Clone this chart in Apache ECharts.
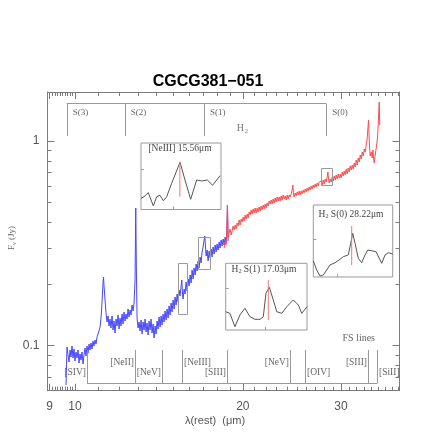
<!DOCTYPE html>
<html><head><meta charset="utf-8">
<script src="https://cdn.jsdelivr.net/npm/echarts@6/dist/echarts.min.js"></script>
<style>html,body{margin:0;padding:0;background:#fff}#c{width:436px;height:436px}</style>
</head><body><div id="c"></div>
<script>
// ---------------- data ----------------
// SL module (blue): wavelength (micron) and flux density (Jy)
const blueLam = [9.635,9.675,9.715,9.755,9.796,9.836,9.877,9.918,9.959,10.000,
10.041,10.083,10.125,10.167,10.209,10.251,10.294,10.337,10.379,10.422,
10.465,10.508,10.552,10.596,10.640,10.684,10.728,10.772,10.817,10.862,
10.907,10.952,10.997,11.043,11.089,11.135,11.181,11.227,11.250,11.274,
11.321,11.367,11.414,11.462,11.509,11.557,11.605,11.653,11.701,11.749,
11.798,11.847,11.896,11.945,11.995,12.044,12.094,12.144,12.195,12.245,
12.296,12.347,12.398,12.449,12.501,12.553,12.605,12.657,12.709,12.762,
12.815,12.852,12.884,12.921,12.975,13.029,13.083,13.137,13.191,13.246,
13.301,13.356,13.411,13.467,13.523,13.579,13.635,13.691,13.748,13.805,
13.862,13.919,13.977,14.035,14.093,14.151,14.210,14.269,14.328,14.387,
14.447,14.507,14.567,14.627,14.688,14.749,14.810,14.871,14.933,14.995,
15.057,15.119,15.182,15.245,15.308,15.371,15.435,15.499,15.544,15.595,
15.627,15.692,15.757,15.822,15.888,15.954,16.020,16.086,16.153,16.220,
16.287,16.354,16.422,16.490,16.558,16.627,16.696,16.765,16.834,16.904,
16.974,17.044,17.093,17.150,17.186,17.257,17.329,17.400,17.472,17.545,
17.617,17.690,17.764,17.837,17.911,17.985,18.060,18.135,18.210,18.285,
18.361,18.437,18.513,18.590,18.667,18.721,18.768,18.822];
const blueFlux = [0.0643,0.0985,0.0901,0.0833,0.0953,0.0881,0.0997,0.0871,0.0964,0.0842,
0.0932,0.0871,0.0953,0.0823,0.0911,0.0852,0.0932,0.0814,0.0901,0.0974,
0.0891,0.0997,0.0921,0.1019,0.0953,0.1031,0.0964,0.1054,0.0997,0.1066,
0.1019,0.1103,0.1128,0.1180,0.1234,0.1366,0.1635,0.2024,0.2166,0.1957,
0.1672,0.1445,0.1306,0.1397,0.1248,0.1350,0.1220,0.1397,0.1193,0.1320,
0.1154,0.1350,0.1248,0.1413,0.1207,0.1366,0.1248,0.1429,0.1277,0.1461,
0.1320,0.1429,0.1350,0.1511,0.1381,0.1494,0.1413,0.1581,0.1478,0.1617,
0.2094,0.4706,0.2397,0.1366,0.1220,0.1306,0.1180,0.1335,0.1141,0.1306,
0.1193,0.1350,0.1167,0.1291,0.1128,0.1320,0.1193,0.1350,0.1154,0.1277,
0.1091,0.1248,0.1141,0.1320,0.1207,0.1381,0.1234,0.1397,0.1262,0.1429,
0.1306,0.1478,0.1335,0.1511,0.1366,0.1563,0.1413,0.1617,0.1461,0.1672,
0.1511,0.1730,0.1581,0.1789,0.1635,0.1871,0.1749,0.1957,0.2094,0.1769,
0.1691,0.1892,0.1789,0.2047,0.1850,0.2118,0.1957,0.2215,0.2024,0.2343,
0.2118,0.2397,0.2215,0.2507,0.2317,0.2593,0.2397,0.2712,0.2535,0.2869,
0.3035,0.3284,0.3435,0.3001,0.2743,0.2934,0.2593,0.2902,0.2682,0.2968,
0.2712,0.3035,0.2805,0.3104,0.2869,0.3139,0.2934,0.3211,0.3001,0.3284,
0.3069,0.3320,0.3104,0.3396,0.3175,0.3592,0.4869,0.3247];
// LL module (red)
const redLam = [18.513,18.590,18.667,18.721,18.768,18.822,18.900,18.978,19.057,19.136,
19.215,19.295,19.375,19.455,19.536,19.616,19.698,19.779,19.861,19.943,
20.026,20.109,20.192,20.276,20.360,20.444,20.529,20.614,20.699,20.785,
20.871,20.957,21.044,21.131,21.219,21.307,21.395,21.483,21.572,21.662,
21.752,21.842,21.932,22.023,22.114,22.206,22.298,22.390,22.483,22.576,
22.669,22.763,22.857,22.952,23.047,23.143,23.239,23.335,23.432,23.529,
23.626,23.724,23.822,23.921,24.020,24.119,24.219,24.320,24.420,24.521,
24.592,24.653,24.725,24.827,24.930,25.033,25.137,25.241,25.346,25.451,
25.556,25.662,25.768,25.875,25.982,26.090,26.198,26.306,26.415,26.524,
26.634,26.744,26.855,26.966,27.078,27.190,27.303,27.416,27.530,27.644,
27.758,27.873,27.989,28.105,28.221,28.338,28.420,28.514,28.573,28.691,
28.810,28.930,29.049,29.170,29.291,29.412,29.534,29.656,29.779,29.902,
30.026,30.150,30.275,30.400,30.526,30.653,30.780,30.907,31.035,31.164,
31.293,31.422,31.552,31.683,31.814,31.946,32.078,32.211,32.345,32.479,
32.613,32.748,32.884,33.020,33.157,33.294,33.432,33.529,33.612,33.710,
33.780,33.849,33.989,34.130,34.230,34.316,34.413,34.556,34.699,34.800,
34.886,34.987,35.059,35.132,35.205];
const redFlux = [0.3001,0.3211,0.3104,0.3592,0.4868,0.3358,0.3552,0.3716,0.3473,0.3634,
0.3844,0.3675,0.3887,0.3716,0.3975,0.3844,0.4112,0.3887,0.4159,0.4020,
0.4253,0.4066,0.4350,0.4159,0.4399,0.4206,0.4499,0.4350,0.4602,0.4399,
0.4654,0.4449,0.4706,0.4449,0.4706,0.4499,0.4760,0.4550,0.4813,0.4602,
0.4868,0.4654,0.4923,0.4706,0.4978,0.4813,0.5092,0.4923,0.5149,0.4923,
0.5208,0.4978,0.5267,0.5035,0.5326,0.5092,0.5326,0.5092,0.5386,0.5149,
0.5448,0.5208,0.5386,0.5149,0.5448,0.5208,0.5448,0.5326,0.5509,0.5763,
0.6096,0.5509,0.5326,0.5571,0.5386,0.5634,0.5448,0.5698,0.5448,0.5698,
0.5509,0.5763,0.5571,0.5828,0.5634,0.5894,0.5698,0.5960,0.5763,0.6028,
0.5828,0.6096,0.5894,0.6165,0.5960,0.6235,0.6028,0.6305,0.6165,0.6377,
0.6096,0.6449,0.6165,0.6522,0.6305,0.6670,0.7056,0.6449,0.6235,0.6522,
0.6305,0.6670,0.6377,0.6746,0.6449,0.6821,0.6522,0.6899,0.6596,0.6899,
0.6596,0.7056,0.6746,0.7136,0.6821,0.7298,0.6899,0.7381,0.7056,0.7549,
0.7217,0.7634,0.7298,0.7808,0.7464,0.8076,0.7634,0.8260,0.7896,0.8543,
0.8168,0.8836,0.8448,0.9140,0.8836,0.9560,1.0343,1.1574,1.2665,1.0113,
0.9140,0.8448,0.8836,0.8260,0.9037,0.8260,0.7808,0.8543,0.9243,0.9778,
1.0460,1.1972,1.3857,1.5507,1.1972];

// axis ticks
const xTickMajor = [9, 10, 20, 30];
const xTickMinor = [9.1,9.2,9.3,9.4,9.5,9.6,9.7,9.8,9.9,11,12,13,14,15,16,17,18,19,21,22,23,24,25,26,27,28,29,31,32,33,34,35,36,37,38];
const yTickMajor = [0.1, 1];
const yTickMinor = [0.06,0.07,0.08,0.09,0.2,0.3,0.4,0.5,0.6,0.7,0.8,0.9];

// H2 lines
const h2Names = ['S(3)','S(2)','S(1)','S(0)'];
const h2Lam = [9.66, 12.28, 17.03, 28.22];
// fine-structure lines
const fsNames = ['[SIV]','[NeII]','[NeV]','[NeIII]','[SIII]','[NeV]','[OIV]','[SIII]','[SiII]'];
const fsLam = [10.51, 12.81, 14.32, 15.56, 18.71, 24.32, 25.89, 33.48, 34.82];
const fsSide = ['r','r','r','l','r','r','l','r','l'];
const fsRow = [1,0,1,0,1,0,1,0,1];

// zoom windows on the spectrum
const boxLamLo = [15.33, 16.64, 27.67];
const boxLamHi = [15.90, 17.47, 28.96];
const boxFluxLo = [0.1424, 0.2362, 0.6147];
const boxFluxHi = [0.2524, 0.338, 0.7404];

// insets (wavelength, relative flux)
const inset1Lam = [15.21,15.237,15.276,15.321,15.351,15.381,15.411,15.441,15.486,15.561,15.606,15.657,15.711,15.756,15.807,15.855,15.921];
const inset1Val = [16.8,19.2,25.3,5.3,19.2,21.4,13.2,19.2,39.4,71.0,44.4,15.3,44.4,42.9,44.4,36.4,50.8];
const inset2Lam = [16.647,16.685,16.730,16.775,16.820,16.865,16.910,16.955,16.985,17.009,17.039,17.075,17.106,17.151,17.196,17.255,17.300,17.331,17.378];
const inset2Val = [27.4,25.0,4.9,22.5,32.5,19.9,16.0,16.0,19.9,55.0,64.0,45.0,27.4,25.0,34.9,45.0,37.5,25.0,34.9];
const inset3Lam = [27.644,27.695,27.745,27.794,27.845,27.895,27.970,28.045,28.094,28.169,28.205,28.235,28.270,28.319,28.370,28.420,28.460,28.520,28.585,28.670,28.720,28.770,28.835];
const inset3Val = [22.6,9.7,1.4,2.8,9.7,16.7,19.9,24.6,28.2,30.6,46.8,60.7,46.8,26.0,19.9,30.6,37.5,36.5,35.1,19.0,30.6,33.8,31.9];
const insetLineLam = [15.56, 17.03, 28.22];
const insetLineLo = [19.2, 15.0, 16.7];
const insetLineHi = [71.9, 75.0, 70.8];
const insetXTick = [15.5, 17.0, 28.0];
const insetYTick = [60, 63, 52];

// ---------------- chart ----------------
const L = Math.log10;
const X0 = L(8.926), X1 = L(38.2), Y0 = L(0.0603), Y1 = L(1.735);
const AX = '#7a7a7a';
const SERIF = '"Liberation Serif", serif';
const fmt = v => { const n = Math.pow(10, v); return n < 1 ? n.toFixed(1) : String(Math.round(n)); };

function mainAxis(dim, pos, ticks, len, withLine, withLabel) {
  return {
    type: 'value', gridIndex: 0, position: pos,
    min: dim === 'x' ? X0 : Y0, max: dim === 'x' ? X1 : Y1,
    axisLine: { show: withLine, onZero: false, lineStyle: { color: AX, width: 1 } },
    axisTick: { show: true, inside: true, length: len, customValues: ticks.map(L), lineStyle: { color: AX, width: 1 } },
    axisLabel: { show: withLabel, customValues: ticks.map(L), formatter: fmt, color: '#555',
      fontFamily: 'Liberation Sans', fontSize: 12, margin: dim === 'x' ? 10 : 8 },
    splitLine: { show: false }
  };
}

const insetGrids = [
  { left: 141, top: 143, width: 80, height: 66.5 },
  { left: 225.7, top: 263.3, width: 81.3, height: 66.7 },
  { left: 313.3, top: 205, width: 79.4, height: 72 }
];
const insetXMin = [15.21, 16.647, 27.644];
const insetXMax = [15.93, 17.378, 28.835];
const insetLams = [inset1Lam, inset2Lam, inset3Lam];
const insetVals = [inset1Val, inset2Val, inset3Val];

const grids = [{ left: 47.5, top: 92, right: 36.5, bottom: 45.3, outerBoundsMode: 'none', containLabel: false }];
insetGrids.forEach(g => grids.push(Object.assign({ show: true, borderColor: '#9a9a9a', borderWidth: 1, backgroundColor: '#fff', outerBoundsMode: 'none', containLabel: false }, g)));

const xAxes = [
  mainAxis('x', 'bottom', xTickMajor, 7, true, true),
  mainAxis('x', 'bottom', xTickMinor, 4, false, false),
  mainAxis('x', 'top', xTickMajor, 7, true, false),
  mainAxis('x', 'top', xTickMinor, 4, false, false)
];
const yAxes = [
  mainAxis('y', 'left', yTickMajor, 7, true, true),
  mainAxis('y', 'left', yTickMinor, 4, false, false),
  mainAxis('y', 'right', yTickMajor, 7, true, false),
  mainAxis('y', 'right', yTickMinor, 4, false, false)
];
for (let i = 0; i < 3; i++) {
  xAxes.push({ type: 'value', gridIndex: i + 1, position: 'bottom', min: insetXMin[i], max: insetXMax[i],
    axisLine: { show: false, onZero: false }, axisLabel: { show: false }, splitLine: { show: false },
    axisTick: { show: true, inside: true, length: 3, customValues: [insetXTick[i]], lineStyle: { color: '#9a9a9a' } } });
  yAxes.push({ type: 'value', gridIndex: i + 1, position: 'left', min: 0, max: 100,
    axisLine: { show: false, onZero: false }, axisLabel: { show: false }, splitLine: { show: false },
    axisTick: { show: true, inside: true, length: 3, customValues: [insetYTick[i]], lineStyle: { color: '#9a9a9a' } } });
}

const series = [
  { type: 'line', xAxisIndex: 0, yAxisIndex: 0, data: blueLam.map((l, i) => [L(l), L(blueFlux[i])]),
    symbol: 'none', lineStyle: { color: '#4646ff', width: 1 }, z: 3, silent: true },
  { type: 'line', xAxisIndex: 0, yAxisIndex: 0, data: redLam.map((l, i) => [L(l), L(redFlux[i])]),
    symbol: 'none', lineStyle: { color: '#ff4c4c', width: 1 }, z: 3, silent: true },
  { type: 'custom', xAxisIndex: 0, yAxisIndex: 0, silent: true, z: 4,
    data: boxLamLo.map((v, i) => [L(v), L(boxFluxLo[i]), L(boxLamHi[i]), L(boxFluxHi[i])]),
    encode: { x: [0, 2], y: [1, 3] },
    renderItem: (p, api) => {
      const a = api.coord([api.value(0), api.value(1)]), b = api.coord([api.value(2), api.value(3)]);
      return { type: 'rect', shape: { x: Math.round(a[0]) + 0.5, y: Math.round(b[1]) + 0.5, width: Math.round(b[0] - a[0]), height: Math.round(a[1] - b[1]) },
        style: { fill: 'none', stroke: '#9a9a9a', lineWidth: 1 } };
    } },
  // H2 bracket
  { type: 'custom', xAxisIndex: 0, yAxisIndex: 0, silent: true, z: 5, clip: false,
    data: [[L(h2Lam[0]), L(1.538)]],
    renderItem: (p, api) => {
      const yTop = L(1.538), yBot = L(1.058), yLab = L(1.375);
      const ch = [];
      const p0 = api.coord([L(h2Lam[0]), yTop]), p1 = api.coord([L(h2Lam[h2Lam.length - 1]), yTop]);
      const yy = Math.round(p0[1]) + 0.5;
      ch.push({ type: 'line', shape: { x1: p0[0], y1: yy, x2: p1[0], y2: yy }, style: { stroke: '#9a9a9a', lineWidth: 1 } });
      h2Lam.forEach((lam, i) => {
        const a = api.coord([L(lam), yTop]), b = api.coord([L(lam), yBot]), t = api.coord([L(lam), yLab]);
        const xx = Math.round(a[0]) + 0.5;
        ch.push({ type: 'line', shape: { x1: xx, y1: yy, x2: xx, y2: b[1] }, style: { stroke: '#9a9a9a', lineWidth: 1 } });
        ch.push({ type: 'text', x: t[0] + 6, y: t[1], style: { text: h2Names[i], fill: '#666', font: '9px ' + SERIF, align: 'left', verticalAlign: 'middle' } });
      });
      return { type: 'group', children: ch };
    } },
  // fine-structure bracket
  { type: 'custom', xAxisIndex: 0, yAxisIndex: 0, silent: true, z: 5, clip: false,
    data: [[L(fsLam[0]), L(0.0655)]],
    renderItem: (p, api) => {
      const yTop = L(0.0953), yBot = L(0.0655);
      const ch = [];
      const p0 = api.coord([L(fsLam[0]), yBot]), p1 = api.coord([L(fsLam[fsLam.length - 1]), yBot]);
      const yy = Math.round(p0[1]) + 0.5;
      ch.push({ type: 'line', shape: { x1: p0[0], y1: yy, x2: p1[0], y2: yy }, style: { stroke: '#9a9a9a', lineWidth: 1 } });
      fsLam.forEach((lam, i) => {
        const a = api.coord([L(lam), yTop]);
        const xx = Math.round(a[0]) + 0.5;
        ch.push({ type: 'line', shape: { x1: xx, y1: a[1], x2: xx, y2: yy }, style: { stroke: '#9a9a9a', lineWidth: 1 } });
        const right = fsSide[i] === 'r';
        ch.push({ type: 'text', x: xx + (right ? -1.5 : 1.5), y: a[1] + (fsRow[i] ? 22.3 : 12.7),
          style: { text: fsNames[i], fill: '#666', font: '9.5px ' + SERIF, align: right ? 'right' : 'left', verticalAlign: 'middle' } });
      });
      return { type: 'group', children: ch };
    } }
];
for (let i = 0; i < 3; i++) {
  series.push({ type: 'line', xAxisIndex: 4 + i, yAxisIndex: 4 + i, data: insetLams[i].map((l, k) => [l, insetVals[i][k]]),
    symbol: 'none', lineStyle: { color: '#555', width: 1 }, z: 3, silent: true });
  series.push({ type: 'line', xAxisIndex: 4 + i, yAxisIndex: 4 + i, data: [[insetLineLam[i], insetLineLo[i]], [insetLineLam[i], insetLineHi[i]]],
    symbol: 'none', lineStyle: { color: '#f07878', width: 1 }, z: 4, silent: true });
}

function subText(x, y, parts, size) {
  return { type: 'text', x: x, y: y, z: 10,
    style: { text: parts, align: 'center', verticalAlign: 'middle',
      rich: { a: { fontSize: size, fontFamily: 'Liberation Serif', fill: '#444' },
              s: { fontSize: size * 0.65, fontFamily: 'Liberation Serif', fill: '#444', padding: [size * 0.45, 0, 0, 0] } } } };
}

const graphic = [
  { type: 'text', x: 208, y: 81.7, style: { text: 'CGCG381\u2212051', font: 'bold 16px "Liberation Sans"', fill: '#000', align: 'center', verticalAlign: 'middle' } },
  { type: 'text', x: 215, y: 421, style: { text: 'λ(rest)  (μm)', font: '11px "Liberation Sans"', fill: '#555', align: 'center', verticalAlign: 'middle' } },
  { type: 'text', x: 12, y: 238, rotation: Math.PI / 2,
    style: { text: '{a|F}{s|ν}{a| (Jy)}', align: 'center', verticalAlign: 'middle',
      rich: { a: { fontSize: 9, fontFamily: 'Liberation Serif', fill: '#666' }, s: { fontSize: 6, fontFamily: 'Liberation Serif', fill: '#666', padding: [4, 0, 0, 0] } } } },
  { type: 'text', x: 375, y: 338, style: { text: 'FS lines', font: '10px ' + SERIF, fill: '#666', align: 'right', verticalAlign: 'middle' } },
  { type: 'text', x: 240.3, y: 128, style: { text: 'H', font: '10px ' + SERIF, fill: '#777', align: 'center', verticalAlign: 'middle' } },
  { type: 'text', x: 246.3, y: 131.5, style: { text: '2', font: '6.5px ' + SERIF, fill: '#777', align: 'center', verticalAlign: 'middle' } },
  subText(180, 148.5, '{a|[NeIII] 15.56μm}', 9.5),
  subText(264, 269.5, '{a|H}{s|2}{a| S(1) 17.03μm}', 9.5),
  subText(351, 214, '{a|H}{s|2}{a| S(0) 28.22μm}', 9.5)
];

const chart = echarts.init(document.getElementById('c'), null, { renderer: 'canvas' });
chart.setOption({
  animation: false,
  backgroundColor: '#fff',
  textStyle: { fontFamily: 'Liberation Sans' },
  grid: grids, xAxis: xAxes, yAxis: yAxes, series: series, graphic: graphic
});
</script></body></html>
